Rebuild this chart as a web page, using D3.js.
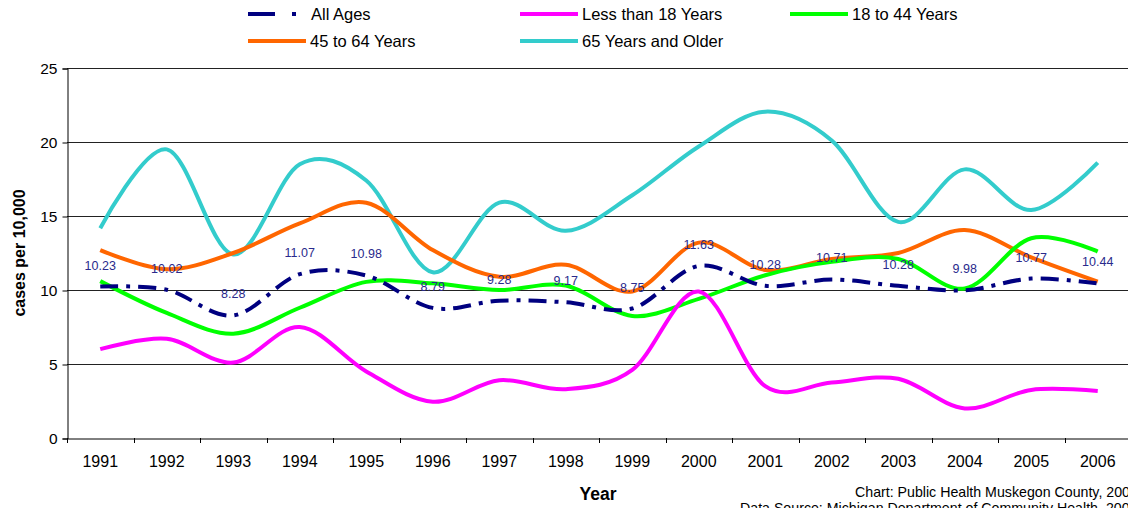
<!DOCTYPE html>
<html>
<head>
<meta charset="utf-8">
<script src="https://cdn.jsdelivr.net/npm/d3@7/dist/d3.min.js"></script>
<style>
  html, body { margin: 0; padding: 0; background: #fff; overflow: hidden; }
  svg { display: block; font-family: "Liberation Sans", Arial, sans-serif; }
</style>
</head>
<body>
<div id="chart"></div>
<script>
  // ---- Data ---------------------------------------------------------------
  var years = ['1991', '1992', '1993', '1994', '1995', '1996', '1997', '1998',
               '1999', '2000', '2001', '2002', '2003', '2004', '2005', '2006'];

  var allAges   = [10.23, 10.02, 8.28, 11.07, 10.98, 8.79, 9.28, 9.17,
                   8.75, 11.63, 10.28, 10.71, 10.28, 9.98, 10.77, 10.44];
  var under18   = [6.0, 6.7, 5.1, 7.5, 4.5, 2.45, 3.9, 3.3,
                   4.6, 9.9, 3.5, 3.75, 4.0, 2.0, 3.25, 3.18];
  var age18to44 = [10.6, 8.45, 7.05, 8.8, 10.55, 10.45, 10.0, 10.3,
                   8.25, 9.4, 11.0, 11.9, 12.1, 10.1, 13.5, 12.6];
  var age45to64 = [12.7, 11.4, 12.5, 14.5, 15.9, 12.7, 10.9, 11.7,
                   9.9, 13.2, 11.35, 12.1, 12.5, 14.05, 12.2, 10.56];
  var age65plus = [14.17, 19.5, 12.4, 18.5, 17.4, 11.2, 15.9, 14.0,
                   16.4, 19.7, 22.05, 20.1, 14.6, 18.15, 15.4, 18.6];

  var yTicks = [0, 5, 10, 15, 20, 25];

  var series = [
    { name: 'All Ages',           values: allAges,   color: '#000080', dash: '18,8,4,8' },
    { name: 'Less than 18 Years', values: under18,   color: '#FF00FF' },
    { name: '18 to 44 Years',     values: age18to44, color: '#00FF00' },
    { name: '45 to 64 Years',     values: age45to64, color: '#FF6600' },
    { name: '65 Years and Older', values: age65plus, color: '#33CCCC' }
  ];
  // draw order: back to front
  var drawOrder = [4, 3, 2, 1, 0];

  // ---- Layout -------------------------------------------------------------
  var W = 1128, H = 508;
  var plot = { left: 67, top: 68, right: 1131, bottom: 438 };
  var FONT = '"Liberation Sans", Arial, sans-serif';

  var svg = d3.select('#chart').append('svg')
    .attr('width', W).attr('height', H);

  var x = d3.scaleBand().domain(years).range([plot.left, plot.right]);
  var y = d3.scaleLinear().domain([0, 25]).range([plot.bottom, plot.top]);
  var cx = function(d, i) { return x(years[i]) + x.bandwidth() / 2; };

  // gridlines
  svg.append('g').selectAll('line')
    .data(yTicks.filter(function(t) { return t > 0; }))
    .join('line')
    .attr('x1', plot.left).attr('x2', plot.right)
    .attr('y1', function(d) { return Math.round(y(d)) + 0.5; })
    .attr('y2', function(d) { return Math.round(y(d)) + 0.5; })
    .attr('stroke', '#222').attr('stroke-width', 1);

  // y axis
  var yAxis = svg.append('g')
    .attr('transform', 'translate(' + (plot.left + 0.5) + ',0.5)')
    .call(d3.axisLeft(y).tickValues(yTicks).tickSize(5).tickPadding(5));
  yAxis.select('.domain').attr('stroke', '#000');
  yAxis.selectAll('line').attr('stroke', '#000');
  yAxis.selectAll('text').attr('font-size', 15.5).attr('fill', '#000')
    .attr('font-family', FONT);

  // x axis
  var xAxis = svg.append('g')
    .attr('transform', 'translate(0,' + (plot.bottom + 0.5) + ')')
    .call(d3.axisBottom(x).tickSize(0).tickPadding(17));
  xAxis.select('.domain').attr('stroke', '#000');
  xAxis.selectAll('text').attr('font-size', 16).attr('fill', '#000')
    .attr('font-family', FONT);
  // tick marks between categories
  svg.append('g').selectAll('line')
    .data(years)
    .join('line')
    .attr('x1', function(d) { return Math.round(x(d)) + 0.5; })
    .attr('x2', function(d) { return Math.round(x(d)) + 0.5; })
    .attr('y1', plot.bottom).attr('y2', plot.bottom + 5)
    .attr('stroke', '#000');

  // axis titles
  svg.append('text')
    .attr('transform', 'translate(25,' + ((plot.top + plot.bottom) / 2) + ') rotate(-90)')
    .attr('text-anchor', 'middle')
    .attr('font-size', 16).attr('font-weight', 'bold')
    .text('cases per 10,000');

  svg.append('text')
    .attr('x', 598).attr('y', 500)
    .attr('text-anchor', 'middle')
    .attr('font-size', 17.5).attr('font-weight', 'bold')
    .text('Year');

  // source notes (run off the right/bottom edge as in the original)
  svg.append('text')
    .attr('x', 855).attr('y', 497)
    .attr('font-size', 14.2)
    .text('Chart: Public Health Muskegon County, 2007');
  svg.append('text')
    .attr('x', 740).attr('y', 513)
    .attr('font-size', 14.2)
    .text('Data Source: Michigan Department of Community Health, 2007');

  // ---- Lines --------------------------------------------------------------
  var line = d3.line()
    .x(cx)
    .y(function(d) { return y(d); })
    .curve(d3.curveCardinal.tension(0));

  drawOrder.forEach(function(k) {
    var s = series[k];
    svg.append('path')
      .datum(s.values)
      .attr('d', line)
      .attr('fill', 'none')
      .attr('stroke', s.color)
      .attr('stroke-width', 4)
      .attr('stroke-dasharray', s.dash || null);
  });

  // data labels (All Ages)
  svg.append('g').selectAll('text')
    .data(allAges)
    .join('text')
    .attr('x', cx)
    .attr('y', function(d) { return y(d) - 17; })
    .attr('text-anchor', 'middle')
    .attr('font-size', 12.5)
    .attr('fill', '#2A2A8C')
    .text(function(d) { return d.toFixed(2); });

  // ---- Legend -------------------------------------------------------------
  var legendPos = [
    { x: 248, y: 14 }, { x: 520, y: 14 }, { x: 790, y: 14 },
    { x: 248, y: 41 }, { x: 520, y: 41 }
  ];
  series.forEach(function(s, i) {
    var p = legendPos[i];
    var g = svg.append('g').attr('transform', 'translate(' + p.x + ',' + p.y + ')');
    g.append('line')
      .attr('x1', 0).attr('x2', s.dash ? 50 : 58)
      .attr('stroke', s.color).attr('stroke-width', 4)
      .attr('stroke-dasharray', s.dash ? '27,17,4,8' : null);
    g.append('text')
      .attr('x', s.dash ? 63 : 62).attr('y', 6)
      .attr('font-size', 16.5)
      .text(s.name);
  });
</script>
</body>
</html>
